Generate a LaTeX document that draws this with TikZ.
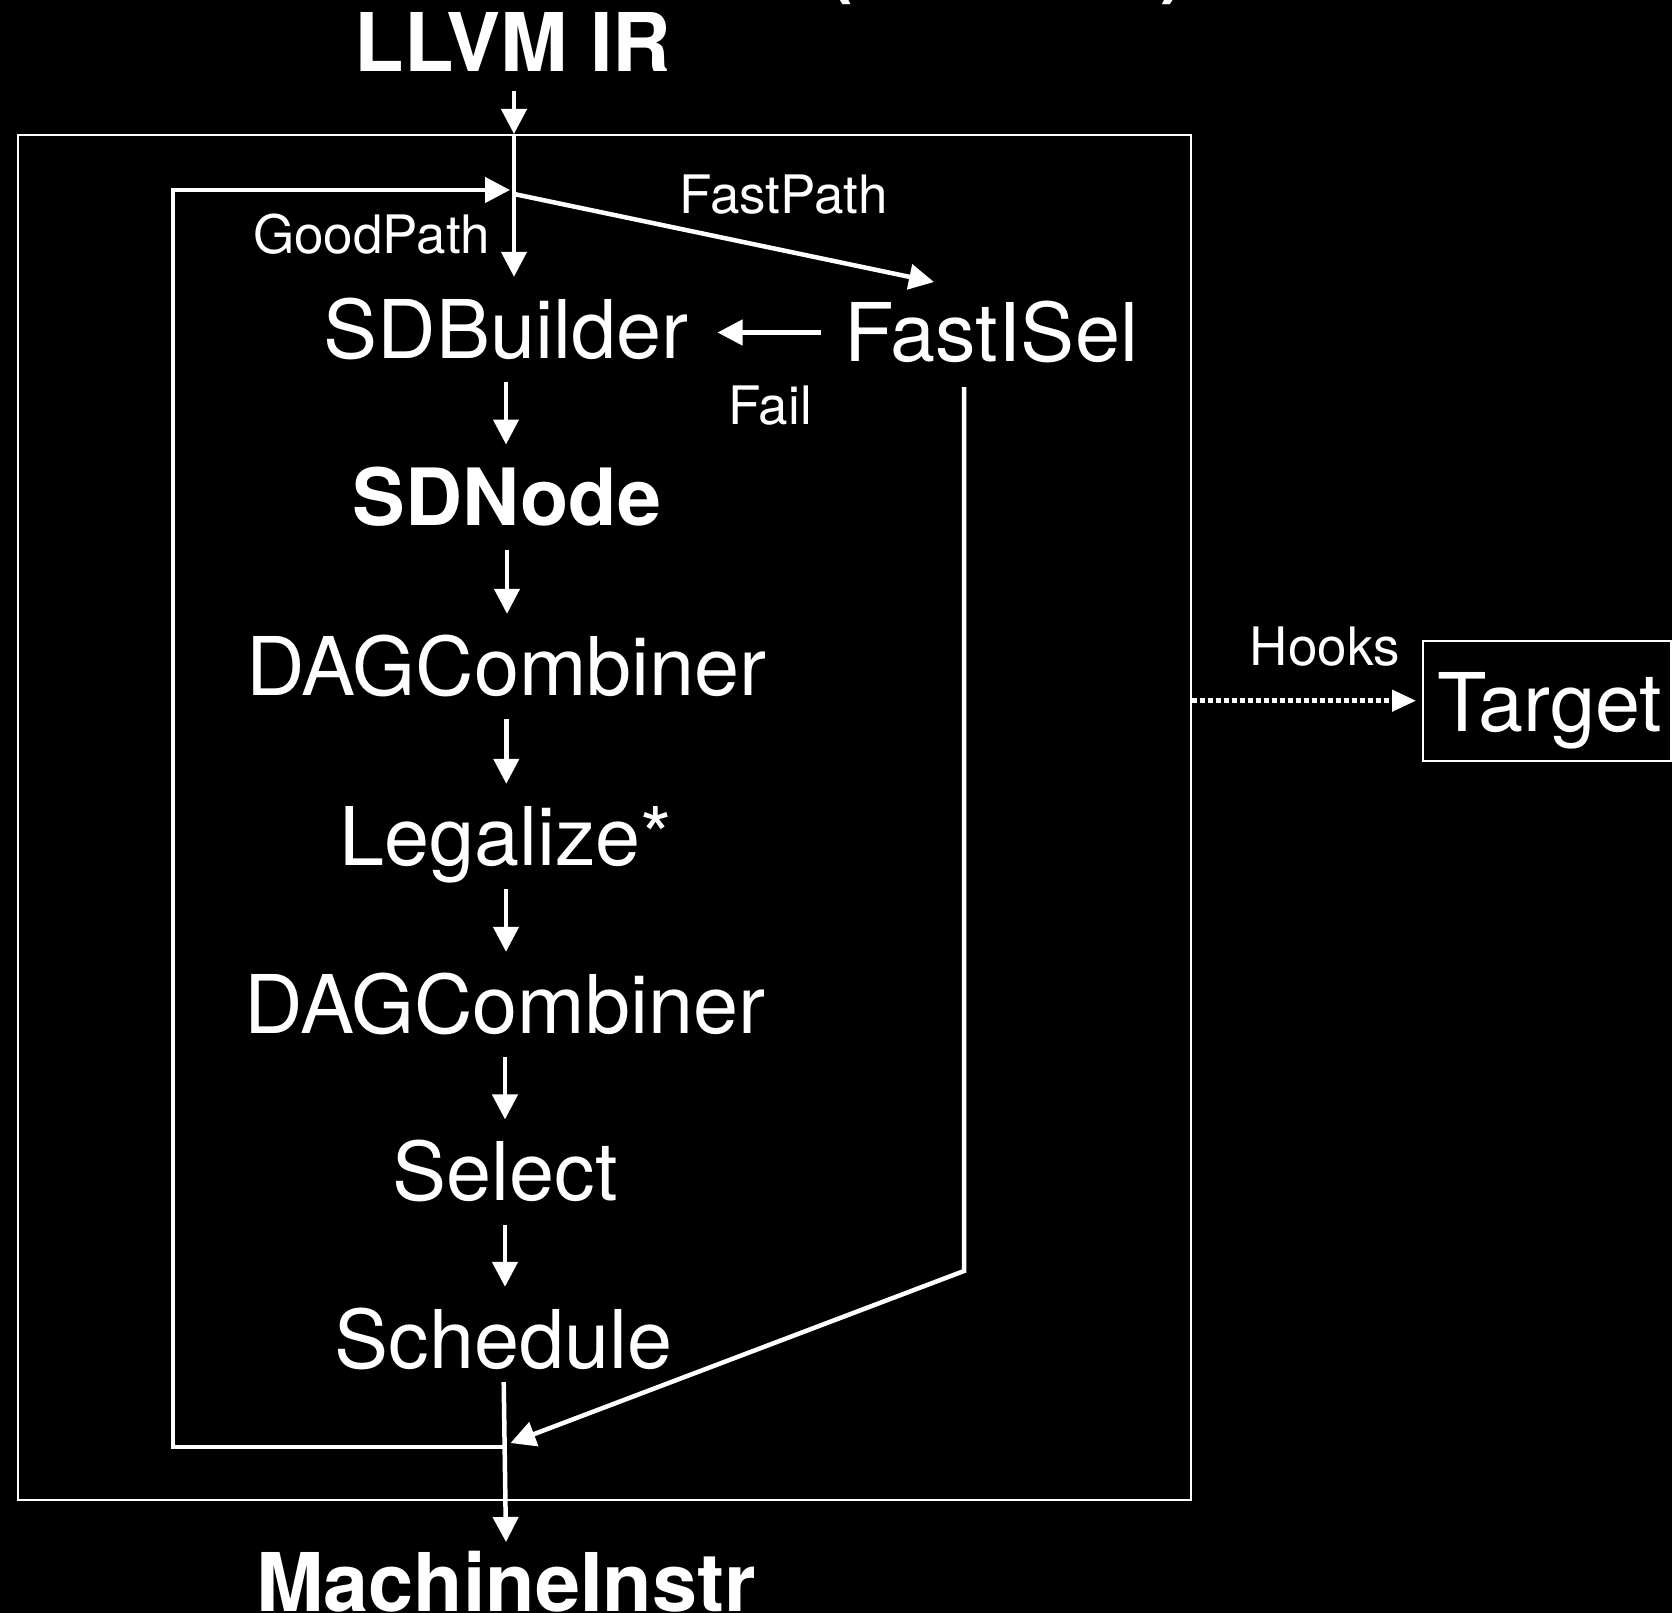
\documentclass[tikz,border=0pt]{standalone}
\usepackage{fontspec}
\setmainfont{TeX Gyre Heros}
\usetikzlibrary{arrows.meta}

\tikzset{
  every node/.style={text=white, inner xsep=0pt},
  stage/.style={font=\fontsize{81}{90}\selectfont, anchor=base,
    text height=57pt, text depth=0pt, inner ysep=24pt},
  boldstage/.style={stage, font=\fontsize{79}{90}\selectfont\bfseries},
  heading/.style={font=\fontsize{81}{90}\selectfont\bfseries, anchor=base, inner ysep=0pt},
  note/.style={font=\fontsize{53}{60}\selectfont, anchor=base, inner ysep=0pt},
  frame/.style={draw=white, line width=2pt, inner sep=0pt},
  tip/.style={-{Triangle[length=25pt,width=25pt]}},
  flow/.style={draw=white, line width=4.5pt, tip},
  route/.style={draw=white, line width=4.5pt},
  hook/.style={draw=white, line width=4.5pt, dash pattern=on 4.7pt off 3.3pt,
    -{Triangle[length=24pt,width=21pt]}},
}

\begin{document}
\begin{tikzpicture}[x=1pt, y=-1pt]
  % canvas
  \fill[black] (0,0) rectangle (1672,1613);
  \useasboundingbox (0,0) rectangle (1672,1613);

  % title line above, only its lower edge shows
  \node[heading, anchor=base west] (lpar) at (826,-11) {(};
  \node[heading, anchor=base west] (rpar) at (1160,-11) {)};

  % selection frame and target box
  \node[frame, minimum width=1173pt, minimum height=1365pt] (isel) at (604.5,817.5) {};
  \node[frame, minimum width=247.5pt, minimum height=120pt] (tbox) at (1546.75,700.7) {};

  % inputs and outputs
  \node[heading] (llvm) at (513,72) {LLVM IR};
  \node[heading] (mach) at (506,1611) {MachineInstr};

  % pipeline stages
  \node[stage] (sdb) at (506,358) {SDBuilder};
  \node[stage] (fisel) at (991,361) {FastISel};
  \node[boldstage] (sdn) at (507,525.7) {SDNode};
  \node[stage] (comb1) at (506.3,695) {DAGCombiner};
  \node[stage] (legal) at (506,865) {Legalize*};
  \node[stage] (comb2) at (505,1033) {DAGCombiner};
  \node[stage] (sel) at (505,1200.6) {Select};
  \node[stage] (sched) at (503.7,1368) {Schedule};
  \node[stage] (tgt) at (1549.7,731) {Target};

  % labels
  \node[note] (lfast) at (783.5,214) {FastPath};
  \node[note] (lgood) at (371.5,254) {GoodPath};
  \node[note] (lfail) at (770,424) {Fail};
  \node[note] (lhooks) at (1324.8,665) {Hooks};

  % junction points
  \coordinate (irout) at (514,91);
  \coordinate (boxtop) at (irout |- isel.north);
  \coordinate (fork) at (514,190);
  \coordinate (fastin) at (934,282);
  \coordinate (fastdown) at (964,387);
  \coordinate (fastbend) at (964,1271);
  \coordinate (fastmerge) at (510.5,1443);
  \coordinate (schedout) at ([yshift=-14pt]sched.base);
  \coordinate (merge) at (503.5,1447);
  \coordinate (leftrail) at (173,1447);
  \coordinate (machin) at ([yshift=69pt]mach.base);

  % entry
  \draw[flow] (irout) -- (boxtop);
  \draw[flow] (boxtop) -- (boxtop |- sdb.north);
  \draw[flow] ([yshift=-4pt]fork) -- (fastin);

  % stage chain
  \draw[flow] (sdb.south) -- (sdb.south |- sdn.north);
  \draw[flow] (sdn.south) -- (sdn.south |- comb1.north);
  \draw[flow] (comb1.south) -- (comb1.south |- legal.north);
  \draw[flow] (legal.south) -- (legal.south |- comb2.north);
  \draw[flow] (comb2.south) -- (comb2.south |- sel.north);
  \draw[flow] (sel.south) -- (sel.south |- sched.north);
  \draw[flow] (schedout) -- (machin);

  % fast path fallback and merge
  \draw[flow, shorten <=23pt, shorten >=29pt] (fisel.west) -- (fisel.west -| sdb.east);
  \draw[flow, line join=miter] (fastdown) -- (fastbend) -- (fastmerge);

  % loop back for the good path
  \draw[route, tip, line join=miter] (merge) -- (leftrail) |- ([xshift=-4pt]fork);

  % target hooks
  \draw[hook, shorten >=6pt] (isel.east |- tbox.west) -- (tbox.west);
\end{tikzpicture}
\end{document}
